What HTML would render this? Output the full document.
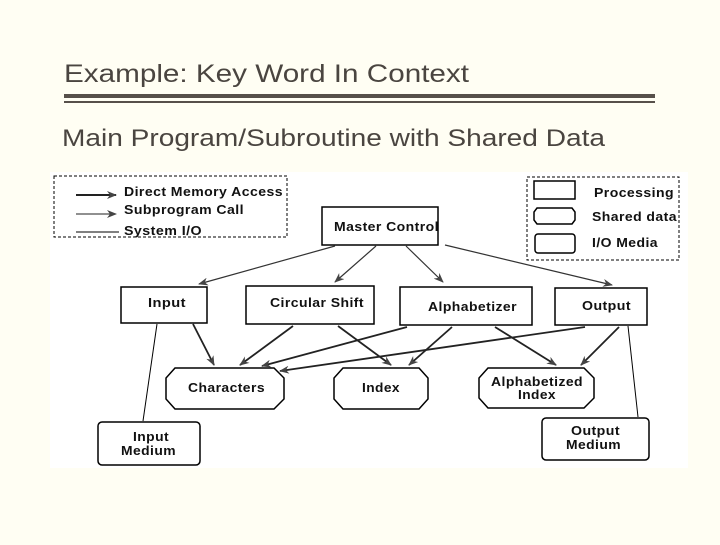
<!DOCTYPE html>
<html><head><style>
body{margin:0;width:720px;height:540px;background:#fffef3;overflow:hidden;font-family:"Liberation Sans",sans-serif}
</style></head><body>
<svg width="720" height="540" xmlns="http://www.w3.org/2000/svg">
<defs>
<marker id="a" markerWidth="10" markerHeight="8" refX="9" refY="4" orient="auto" markerUnits="userSpaceOnUse"><path d="M0,0 L10,4 L0,8 L3,4z" fill="#444"/></marker>
</defs>
<text x="64" y="82" font-size="25" fill="#4a4540" textLength="405" lengthAdjust="spacingAndGlyphs">Example: Key Word In Context</text>
<rect x="64" y="94" width="591" height="4" fill="#57504a"/>
<rect x="64" y="101" width="591" height="2" fill="#57504a"/>
<text x="62" y="146" font-size="24" fill="#4a4540" textLength="543" lengthAdjust="spacingAndGlyphs">Main Program/Subroutine with Shared Data</text>
<rect x="50" y="172" width="638" height="296" fill="#fff"/>
<g stroke="#000" fill="none" font-weight="bold">
<rect x="54" y="176" width="233" height="61" stroke-dasharray="3,2"/>
<rect x="527" y="177" width="152" height="83" stroke-dasharray="3,2"/>
<line x1="76" y1="195" x2="116" y2="195" stroke-width="2" stroke="#222" marker-end="url(#a)"/>
<line x1="76" y1="214" x2="116" y2="214" stroke="#222" marker-end="url(#a)"/>
<line x1="76" y1="232" x2="119" y2="232"/>
<rect x="534" y="181" width="41" height="18" stroke-width="1.5"/>
<path d="M537,208 H572 L575,212 V220 L572,224 H537 L534,220 V212Z" stroke-width="1.5"/>
<rect x="535" y="234" width="40" height="19" rx="3" stroke-width="1.5"/>
<rect x="322" y="207" width="116" height="38" stroke-width="1.5"/>
<rect x="121" y="287" width="86" height="36" stroke-width="1.5"/>
<rect x="246" y="286" width="128" height="38" stroke-width="1.5"/>
<rect x="400" y="287" width="132" height="38" stroke-width="1.5"/>
<rect x="555" y="288" width="92" height="37" stroke-width="1.5"/>
<path d="M175,368 H274 L284,378 V399 L274,409 H175 L166,399 V378Z" stroke-width="1.5"/>
<path d="M343,368 H419 L428,378 V399 L419,409 H343 L334,399 V378Z" stroke-width="1.5"/>
<path d="M488,368 H584 L594,378 V398 L584,408 H488 L479,398 V378Z" stroke-width="1.5"/>
<rect x="98" y="422" width="102" height="43" rx="4" stroke-width="1.5"/>
<rect x="542" y="418" width="107" height="42" rx="4" stroke-width="1.5"/>
<g stroke="#333" stroke-width="1.2">
<line x1="335" y1="246" x2="199" y2="284" marker-end="url(#a)"/>
<line x1="376" y1="246" x2="335" y2="282" marker-end="url(#a)"/>
<line x1="406" y1="246" x2="443" y2="282" marker-end="url(#a)"/>
<line x1="445" y1="245" x2="612" y2="285" marker-end="url(#a)"/>
</g>
<g stroke="#222" stroke-width="1.8">
<line x1="193" y1="324" x2="214" y2="365" marker-end="url(#a)"/>
<line x1="293" y1="326" x2="240" y2="365" marker-end="url(#a)"/>
<line x1="338" y1="326" x2="391" y2="365" marker-end="url(#a)"/>
<line x1="407" y1="327" x2="262" y2="366" marker-end="url(#a)"/>
<line x1="452" y1="327" x2="409" y2="365" marker-end="url(#a)"/>
<line x1="495" y1="327" x2="556" y2="365" marker-end="url(#a)"/>
<line x1="585" y1="327" x2="280" y2="371" marker-end="url(#a)"/>
<line x1="619" y1="327" x2="581" y2="365" marker-end="url(#a)"/>
</g>
<line x1="157" y1="324" x2="143" y2="421"/>
<line x1="628" y1="326" x2="638" y2="417"/>
</g>
<g font-size="13" font-weight="bold" fill="#111" stroke="none" letter-spacing="0.4">
<text x="124" y="196" textLength="159" lengthAdjust="spacingAndGlyphs">Direct Memory Access</text>
<text x="124" y="214" textLength="120" lengthAdjust="spacingAndGlyphs">Subprogram Call</text>
<text x="124" y="235" textLength="78" lengthAdjust="spacingAndGlyphs">System I/O</text>
<text x="594" y="197" textLength="80" lengthAdjust="spacingAndGlyphs">Processing</text>
<text x="592" y="221" textLength="85" lengthAdjust="spacingAndGlyphs">Shared data</text>
<text x="592" y="247" textLength="66" lengthAdjust="spacingAndGlyphs">I/O Media</text>
<text x="334" y="231" textLength="105" lengthAdjust="spacingAndGlyphs">Master Control</text>
<text x="148" y="307" textLength="38" lengthAdjust="spacingAndGlyphs">Input</text>
<text x="270" y="307" textLength="94" lengthAdjust="spacingAndGlyphs">Circular Shift</text>
<text x="428" y="311" textLength="89" lengthAdjust="spacingAndGlyphs">Alphabetizer</text>
<text x="582" y="310" textLength="49" lengthAdjust="spacingAndGlyphs">Output</text>
<text x="188" y="392" textLength="77" lengthAdjust="spacingAndGlyphs">Characters</text>
<text x="362" y="392" textLength="38" lengthAdjust="spacingAndGlyphs">Index</text>
<text x="491" y="386" textLength="92" lengthAdjust="spacingAndGlyphs">Alphabetized</text>
<text x="518" y="399" textLength="38" lengthAdjust="spacingAndGlyphs">Index</text>
<text x="133" y="441" textLength="36" lengthAdjust="spacingAndGlyphs">Input</text>
<text x="121" y="455" textLength="55" lengthAdjust="spacingAndGlyphs">Medium</text>
<text x="571" y="435" textLength="49" lengthAdjust="spacingAndGlyphs">Output</text>
<text x="566" y="449" textLength="55" lengthAdjust="spacingAndGlyphs">Medium</text>
</g>
</svg>
</body></html>
